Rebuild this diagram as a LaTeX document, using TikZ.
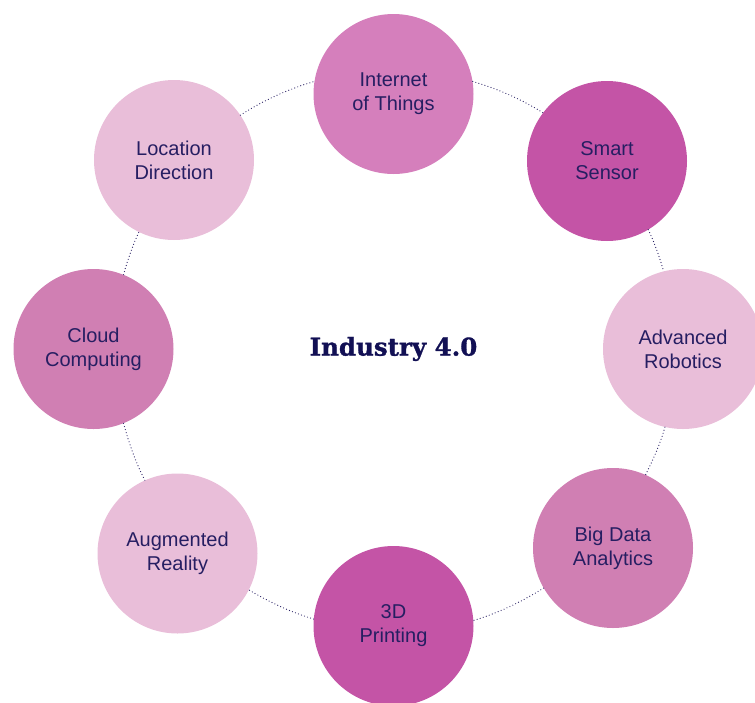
\documentclass[tikz,border=0pt]{standalone}
\usepackage{fontspec}
\setmainfont{Liberation Sans}
\newfontfamily\titlefont[BoldFeatures={FakeBold=1.2}]{DejaVu Serif}
\definecolor{textnavy}{RGB}{38, 30, 98}
\definecolor{titlenavy}{RGB}{18, 16, 84}
\definecolor{pinklight}{RGB}{233, 190, 217}
\definecolor{pinkmid}{RGB}{208, 127, 179}
\definecolor{pinkiot}{RGB}{213, 127, 188}
\definecolor{pinkdark}{RGB}{196, 84, 166}
\usepackage{tikz}
\usetikzlibrary{arrows.meta,positioning,shapes}

\begin{document}
\begin{tikzpicture}[x=1pt, y=-1pt,
    topic/.style={circle, minimum size=160pt, inner sep=0pt, align=center,
        text=textnavy, font=\fontsize{20}{24}\selectfont},
    ring/.style={textnavy, line width=1.2pt, line cap=round, dash pattern=on 0pt off 3.2pt, looseness=0.85}]
    \useasboundingbox (0,0) rectangle (755,702);
    \node[topic, fill=pinkiot] (iot) at (393.5,94) {Internet\\of Things};
    \node[topic, fill=pinkdark] (sensor) at (607,161) {Smart\\Sensor};
    \node[topic, fill=pinklight] (robotics) at (683,349) {Advanced\\Robotics};
    \node[topic, fill=pinkmid] (bigdata) at (613,548) {Big Data\\Analytics};
    \node[topic, fill=pinkdark] (printing) at (393.5,626) {3D\\Printing};
    \node[topic, fill=pinklight] (ar) at (177.5,553.5) {Augmented\\Reality};
    \node[topic, fill=pinkmid] (cloud) at (93.5,349) {Cloud\\Computing};
    \node[topic, fill=pinklight] (location) at (174,160) {Location\\Direction};
    \node[text=titlenavy, font=\titlefont\bfseries\fontsize{24.5}{29}\selectfont] (title) at (393.5,349) {Industry 4.0};
    \draw[ring] (iot.9) to[out=-16.4, in=147.9] (sensor.143.2);
    \draw[ring] (sensor.-59.5) to[out=-64.5, in=106.2] (robotics.104.3);
    \draw[ring] (robotics.-103.8) to[out=-105.8, in=63.7] (bigdata.66.2);
    \draw[ring] (bigdata.-150.4) to[out=-147.8, in=16.5] (printing.4.5);
    \draw[ring] (printing.175.5) to[out=163.5, in=-31.1] (ar.-27.6);
    \draw[ring] (ar.114.2) to[out=117.7, in=-74.8] (cloud.-68.9);
    \draw[ring] (cloud.68.6) to[out=74.4, in=-114.9] (location.-116.3);
    \draw[ring] (location.34.5) to[out=33.1, in=196.4] (iot.171);
\end{tikzpicture}
\end{document}
